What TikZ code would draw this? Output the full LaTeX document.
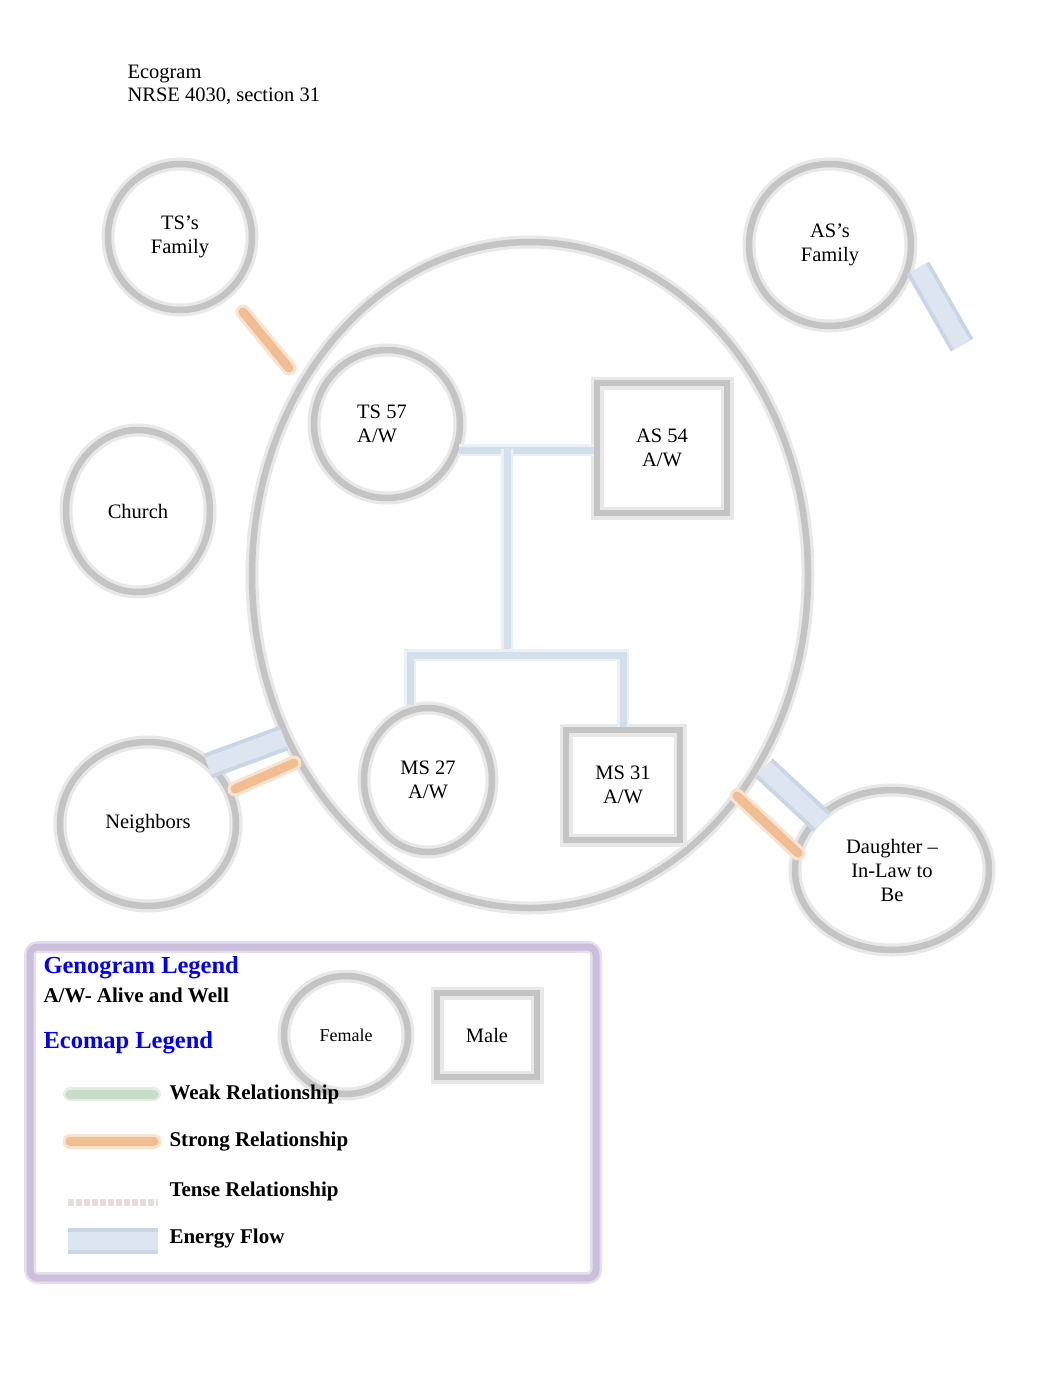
\documentclass[tikz,border=0pt]{standalone}
\usepackage{fontspec}
\setmainfont{Liberation Serif}
\usetikzlibrary{shapes.geometric}
\definecolor{ring}{HTML}{C4C4C4}
\definecolor{ringhalo}{HTML}{E8E8E8}
\definecolor{geno}{HTML}{D3DFEB}
\definecolor{genohalo}{HTML}{EAF0F6}
\definecolor{strongc}{HTML}{F0BE92}
\definecolor{stronghalo}{HTML}{F9E2CE}
\definecolor{energyc}{HTML}{C9D6E6}
\definecolor{energyin}{HTML}{DCE5F0}
\definecolor{weakc}{HTML}{C8DDC8}
\definecolor{tensec}{HTML}{EADBD6}
\definecolor{lilac}{HTML}{CBBFDB}
\definecolor{legblue}{HTML}{0000FF}
\tikzset{
  ringnode/.style={ellipse, draw=ring, line width=6.5pt, preaction={draw=ringhalo, line width=13pt}, align=center, inner sep=0pt, font=\fontsize{20.5}{24}\selectfont},
  sqnode/.style={rectangle, draw=ring, line width=6.5pt, preaction={draw=ringhalo, line width=13pt}, align=center, inner sep=0pt, font=\fontsize{20.5}{24}\selectfont},
  genoline/.style={draw=geno, line width=7pt, preaction={draw=genohalo, line width=12pt}},
  strongline/.style={draw=strongc, line width=9pt, line cap=round, preaction={draw=stronghalo, line width=15pt, line cap=round}},
  energyline/.style={draw=energyin, line width=18pt, preaction={draw=energyc, line width=26pt}},
  weakline/.style={draw=weakc, line width=9pt, line cap=round, preaction={draw=weakc!50, line width=14pt, line cap=round}},
  tenseline/.style={draw=tensec, line width=7pt, dash pattern=on 6pt off 2pt},
  legtext/.style={anchor=west, font=\bfseries\fontsize{21}{24}\selectfont},
  legtitle/.style={anchor=west, text=legblue, font=\bfseries\fontsize{24.5}{28}\selectfont},
}
\begin{document}
\begin{tikzpicture}[x=1pt,y=-1pt]
\useasboundingbox (0,0) rectangle (1062,1377);
% title
\node[anchor=west, font=\fontsize{20.5}{23}\selectfont, align=left] (title) at (124,85) {Ecogram\\NRSE 4030, section 31};
% big ellipse
\node[ringnode, minimum width=556pt, minimum height=666pt] (home) at (530,575) {};
% outer systems
\node[ringnode, minimum width=144pt, minimum height=146pt] (tsf) at (180,237) {TS’s\\Family};
\node[ringnode, minimum width=162pt, minimum height=162pt] (asf) at (830,245) {AS’s\\Family};
\node[ringnode, minimum width=144pt, minimum height=162pt] (church) at (138,511) {Church};
\node[ringnode, minimum width=176pt, minimum height=164pt] (neigh) at (148,824) {Neighbors};
\node[ringnode, minimum width=194pt, minimum height=160pt] (dil) at (892,870) {Daughter –\\In-Law to\\Be};
% family members
\node[ringnode, minimum width=146pt, minimum height=148pt] (ts) at (387,424) {};
\node[anchor=west, align=left, inner sep=0pt, font=\fontsize{20.5}{24}\selectfont] (tstext) at (357,424) {TS 57\\A/W};
\node[sqnode, minimum width=130pt, minimum height=130pt] (as) at (662,448) {AS 54\\A/W};
\node[ringnode, minimum width=128pt, minimum height=144pt] (ms27) at (428,780) {MS 27\\A/W};
\node[sqnode, minimum width=114pt, minimum height=110pt] (ms31) at (623,785) {MS 31\\A/W};
% genogram lines
\coordinate (marr) at (507,449);
\coordinate (kids) at (507,655);
\draw[genoline] (ts.-20) -- (as.west |- ts.-20);
\draw[genoline] (marr) -- (kids);
\draw[genoline] (ms27.north -| 410,0) |- (kids) -| (ms31.north);
% ecomap connectors
\coordinate (t1) at (243,312); \coordinate (t2) at (289,368);
\draw[strongline] (t1) -- (t2);
\coordinate (a1) at (918,268); \coordinate (a2) at (962,345);
\draw[energyline] (a1) -- (a2);
\coordinate (n1) at (208,766); \coordinate (n2) at (284,738);
\draw[energyline] (n1) -- (n2);
\coordinate (n3) at (235,789); \coordinate (n4) at (294,763);
\draw[strongline] (n3) -- (n4);
\coordinate (d1) at (764,768); \coordinate (d2) at (822,822);
\draw[energyline] (d1) -- (d2);
\coordinate (d3) at (737,796); \coordinate (d4) at (798,853);
\draw[strongline] (d3) -- (d4);
% legend
\draw[draw=lilac, line width=7pt, rounded corners=8pt, preaction={draw=lilac!50, line width=12pt, rounded corners=8pt}] (30,947) rectangle (596,1278);
\node[legtitle] (gl) at (40,968) {Genogram Legend};
\node[legtext] (aw) at (40,995) {A/W- Alive and Well};
\node[legtitle] (el) at (40,1043) {Ecomap Legend};
\node[ringnode, minimum width=124pt, minimum height=118pt, font=\fontsize{18}{20}\selectfont] (fem) at (346,1035) {Female};
\node[sqnode, minimum width=100pt, minimum height=84pt] (male) at (487,1035) {Male};
\coordinate (w1) at (70,1094); \coordinate (w2) at (154,1094);
\draw[weakline] (w1) -- (w2);
\coordinate (s1) at (70,1141); \coordinate (s2) at (154,1141);
\draw[strongline] (s1) -- (s2);
\coordinate (x1) at (68,1202); \coordinate (x2) at (158,1202);
\draw[tenseline] (x1) -- (x2);
\coordinate (e1) at (68,1241); \coordinate (e2) at (158,1241);
\draw[energyline] (e1) -- (e2);
\node[legtext] (lw) at (166,1094) {Weak Relationship};
\node[legtext] (ls) at (166,1142) {Strong Relationship};
\node[legtext] (lt) at (166,1191) {Tense Relationship};
\node[legtext] (le) at (166,1239) {Energy Flow};
\end{tikzpicture}
\end{document}
